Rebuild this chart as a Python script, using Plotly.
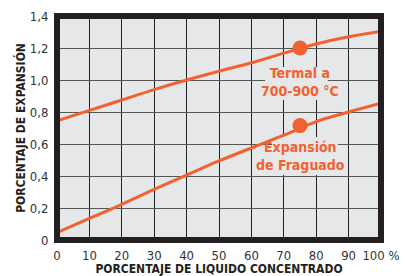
import plotly.graph_objects as go

x_vals = [0, 10, 20, 30, 40, 50, 60, 70, 80, 90, 100]
termal = [0.745, 0.81, 0.875, 0.94, 1.0, 1.055, 1.108, 1.168, 1.225, 1.27, 1.305]
fraguado = [0.046, 0.135, 0.223, 0.317, 0.406, 0.494, 0.575, 0.655, 0.74, 0.80, 0.855]
marker_x = [75, 75]
marker_y = [1.2, 0.715]
x_ticks = [0, 10, 20, 30, 40, 50, 60, 70, 80, 90, 100]
x_ticklabels = ["0", "10", "20", "30", "40", "50", "60", "70", "80", "90", "100 %"]
y_ticks = [0, 0.2, 0.4, 0.6, 0.8, 1.0, 1.2, 1.4]
y_ticklabels = ["0", "0,2", "0,4", "0,6", "0,8", "1,0", "1,2", "1,4"]
label_termal = "Termal a<br>700-900 °C"
label_fraguado = "Expansión<br>de Fraguado"

ORANGE = "#f26231"
FONT = "DejaVu Sans Condensed, Liberation Sans Narrow, Roboto, sans-serif"
BG = "#e6e7e8"

fig = go.Figure()
for ys in (termal, fraguado):
    fig.add_trace(go.Scatter(x=x_vals, y=ys, mode="lines", line=dict(color=ORANGE, width=3, shape="spline"),
                             hoverinfo="skip", showlegend=False))
fig.add_trace(go.Scatter(x=marker_x, y=marker_y, mode="markers",
                         marker=dict(color=ORANGE, size=15), showlegend=False))

# label background boxes (between gridlines and traces)
fig.add_shape(type="rect", x0=64.2, x1=83.6, y0=0.875, y1=1.081, fillcolor=BG, line_width=0, layer="between")
fig.add_shape(type="rect", x0=66.4, x1=86.7, y0=0.406, y1=0.644, fillcolor=BG, line_width=0, layer="between")

fig.add_annotation(x=75, y=0.985, text=label_termal, showarrow=False,
                   font=dict(family=FONT, size=14, color=ORANGE, weight="bold"))
fig.add_annotation(x=75, y=0.527, text=label_fraguado, showarrow=False,
                   font=dict(family=FONT, size=14, color=ORANGE, weight="bold"))

fig.add_shape(type="rect", xref="paper", yref="paper", x0=0, x1=1, y0=0, y1=1,
              line=dict(color="#231f20", width=6), layer="above")

fig.update_layout(
    width=399, height=268,
    margin=dict(l=49, r=26, t=8, b=36),
    paper_bgcolor="white", plot_bgcolor=BG,
    font=dict(family=FONT, size=13, color="#333333"),
    xaxis=dict(range=[0, 100], tickvals=x_ticks, ticktext=x_ticklabels, showgrid=True, automargin=False,
               gridcolor="#222222", gridwidth=1.3, zeroline=False, ticks="outside", ticklen=3,
               tickcolor="rgba(0,0,0,0)",
               title=dict(text="<b>PORCENTAJE DE LIQUIDO CONCENTRADO</b>", standoff=5,
                          font=dict(size=12, color="#231f20"))),
    yaxis=dict(range=[0, 1.4], tickvals=y_ticks, ticktext=y_ticklabels, showgrid=True, automargin=False,
               gridcolor="#555555", gridwidth=1.3, zeroline=False, ticks="outside", ticklen=5,
               tickcolor="rgba(0,0,0,0)",
               title=dict(text="<b>PORCENTAJE DE EXPANSIÓN</b>", standoff=1,
                          font=dict(size=12, color="#231f20"))),
)

fig.write_html("out.html")
